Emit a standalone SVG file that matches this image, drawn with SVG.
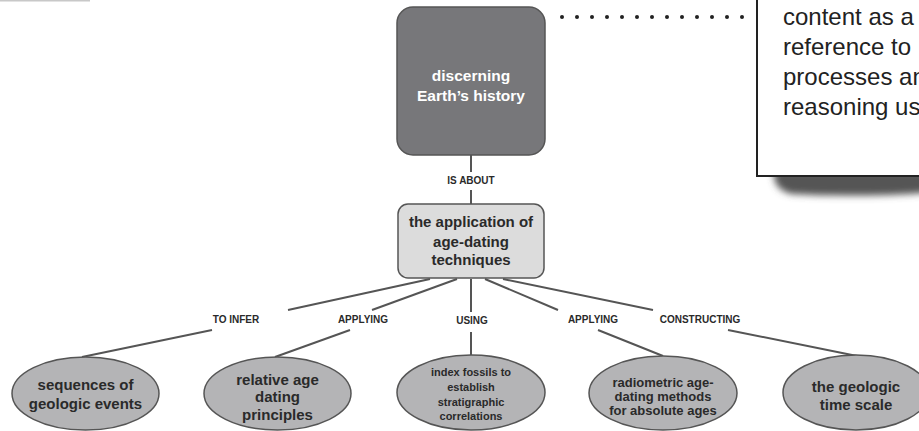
<svg xmlns="http://www.w3.org/2000/svg" width="919" height="431" viewBox="0 0 919 431">
<defs>
<style>
.conn{stroke:#555;stroke-width:2;fill:none}
.lbl{font-family:"Liberation Sans",Arial,sans-serif;font-weight:bold;font-size:10px;fill:#2a2a2a;text-anchor:middle}
.bold{font-family:"Liberation Sans",Arial,sans-serif;font-weight:bold;text-anchor:middle;fill:#2a2a2a}
.ell{fill:#b4b4b6;stroke:#555;stroke-width:1.5}
.dot{fill:#222}
</style>
<filter id="blur" x="-20%" y="-50%" width="140%" height="200%">
<feGaussianBlur stdDeviation="3.5"/>
</filter>
</defs>
<rect width="919" height="431" fill="#fff"/>
<rect x="0" y="0" width="90" height="1.5" fill="#c8c8c8"/>

<g id="connectors">
<line class="conn" x1="471" y1="155" x2="471" y2="172"/>
<line class="conn" x1="471" y1="190" x2="471" y2="204"/>
<line class="conn" x1="430" y1="279" x2="288" y2="310"/>
<line class="conn" x1="212" y1="330" x2="82" y2="357"/>
<line class="conn" x1="457" y1="279" x2="372" y2="310"/>
<line class="conn" x1="350" y1="330" x2="275" y2="357"/>
<line class="conn" x1="471" y1="279" x2="471" y2="312"/>
<line class="conn" x1="471" y1="332" x2="471" y2="355"/>
<line class="conn" x1="485" y1="279" x2="558" y2="310"/>
<line class="conn" x1="598" y1="330" x2="663" y2="356"/>
<line class="conn" x1="503" y1="279" x2="653" y2="310"/>
<line class="conn" x1="728" y1="330" x2="857" y2="356"/>
<g id="dotted">
<circle class="dot" cx="562" cy="17" r="2"/><circle class="dot" cx="577" cy="17" r="2"/><circle class="dot" cx="592" cy="17" r="2"/><circle class="dot" cx="607" cy="17" r="2"/><circle class="dot" cx="622" cy="17" r="2"/><circle class="dot" cx="637" cy="17" r="2"/><circle class="dot" cx="652" cy="17" r="2"/><circle class="dot" cx="667" cy="17" r="2"/><circle class="dot" cx="682" cy="17" r="2"/><circle class="dot" cx="697" cy="17" r="2"/><circle class="dot" cx="712" cy="17" r="2"/><circle class="dot" cx="727" cy="17" r="2"/><circle class="dot" cx="742" cy="17" r="2"/>
</g>
<text class="lbl" x="471" y="184">IS ABOUT</text>
<text class="lbl" x="236" y="323">TO INFER</text>
<text class="lbl" x="363" y="323">APPLYING</text>
<text class="lbl" x="472" y="324">USING</text>
<text class="lbl" x="593" y="323">APPLYING</text>
<text class="lbl" x="700" y="323">CONSTRUCTING</text>
</g>

<g id="note">
<path d="M774 170 L935 170 L935 192 Q860 198 792 194 Q772 190 774 170 Z" fill="#555" filter="url(#blur)"/>
<rect x="757" y="-10" width="180" height="186" fill="#fff" stroke="#222" stroke-width="2"/>
<g font-family="'Liberation Sans',Arial,sans-serif" font-size="24" fill="#222">
<text x="783" y="25">content as a</text>
<text x="783" y="55">reference to</text>
<text x="783" y="85">processes an</text>
<text x="783" y="115">reasoning us</text>
</g>
</g>

<g id="n-history">
<rect x="397" y="7" width="148" height="148" rx="16" fill="#77777a" stroke="#555" stroke-width="1.5"/>
<text class="bold" x="471" y="81" font-size="15.5" style="fill:#fff">discerning</text>
<text class="bold" x="471" y="101" font-size="15.5" style="fill:#fff">Earth’s history</text>
</g>

<g id="n-application">
<rect x="398" y="204" width="146" height="74" rx="10" fill="#dcdcdc" stroke="#555" stroke-width="1.5"/>
<text class="bold" x="471" y="227" font-size="15">the application of</text>
<text class="bold" x="471" y="246.5" font-size="15">age-dating</text>
<text class="bold" x="471" y="265" font-size="15">techniques</text>
</g>

<g id="n-sequences">
<ellipse class="ell" cx="85.5" cy="393.5" rx="73.5" ry="36.5"/>
<text class="bold" x="85.5" y="390" font-size="15">sequences of</text>
<text class="bold" x="85.5" y="408.5" font-size="15">geologic events</text>
</g>

<g id="n-relative">
<ellipse class="ell" cx="277.5" cy="393.5" rx="73.5" ry="36.5"/>
<text class="bold" x="277.5" y="385" font-size="15">relative age</text>
<text class="bold" x="277.5" y="402" font-size="15">dating</text>
<text class="bold" x="277.5" y="420" font-size="15">principles</text>
</g>

<g id="n-fossils">
<ellipse class="ell" cx="471" cy="392.5" rx="74" ry="37.5"/>
<text class="bold" x="471" y="376" font-size="11">index fossils to</text>
<text class="bold" x="471" y="390.5" font-size="11">establish</text>
<text class="bold" x="471" y="405.5" font-size="11">stratigraphic</text>
<text class="bold" x="471" y="420" font-size="11">correlations</text>
</g>

<g id="n-radiometric">
<ellipse class="ell" cx="663" cy="393" rx="74" ry="37"/>
<text class="bold" x="663" y="386.5" font-size="13">radiometric age-</text>
<text class="bold" x="663" y="400.5" font-size="13">dating methods</text>
<text class="bold" x="663" y="415" font-size="13">for absolute ages</text>
</g>

<g id="n-timescale">
<ellipse class="ell" cx="856" cy="392.5" rx="73" ry="37.5"/>
<text class="bold" x="856" y="391.5" font-size="15">the geologic</text>
<text class="bold" x="856" y="410" font-size="15">time scale</text>
</g>
</svg>
